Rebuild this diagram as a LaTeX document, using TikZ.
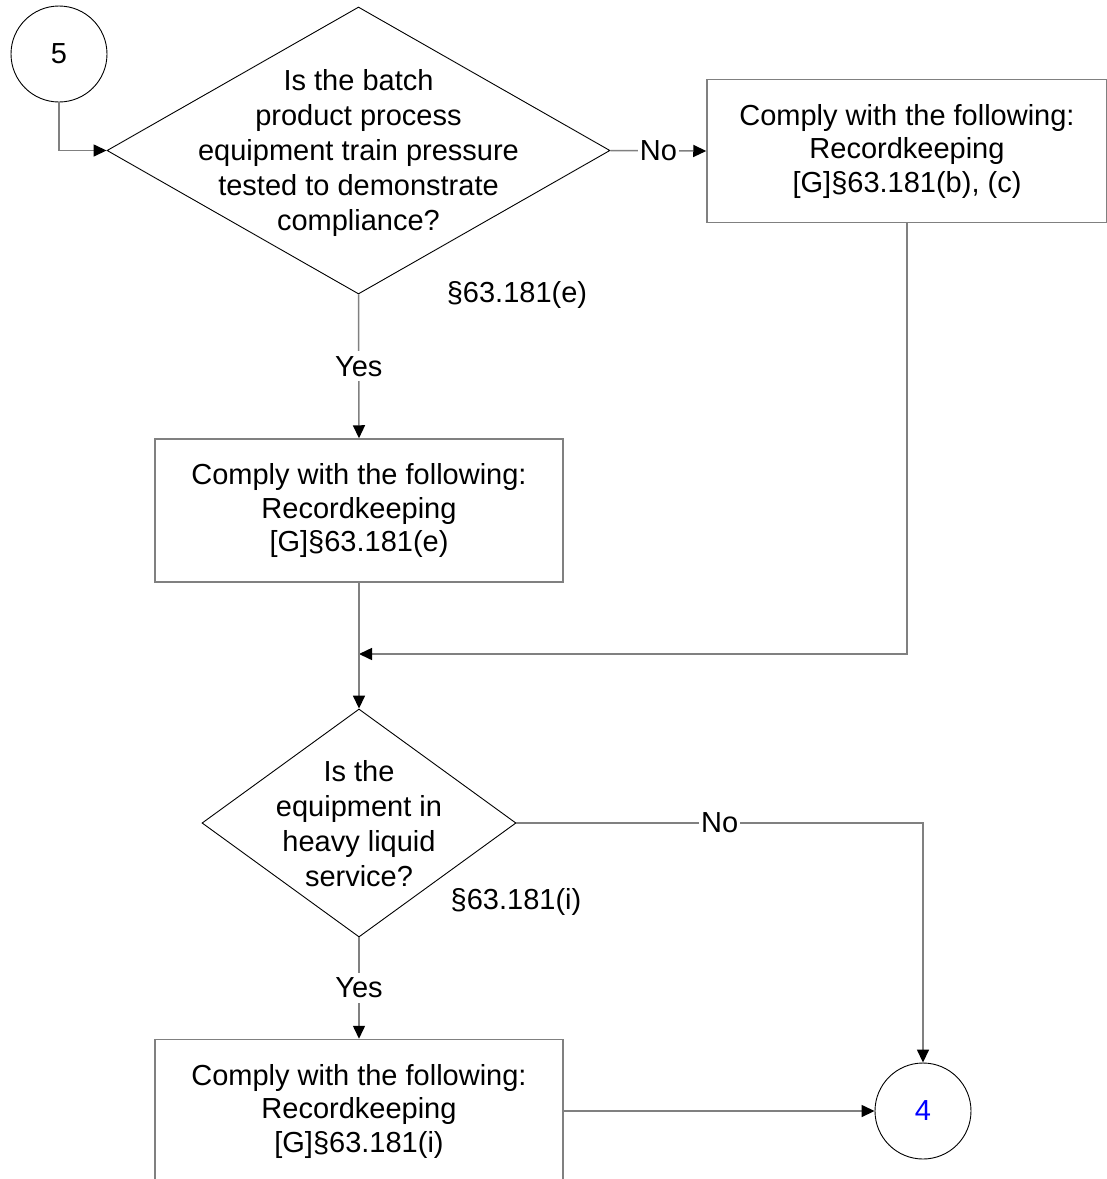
\documentclass[tikz,border=0pt]{standalone}
\usepackage{fontspec}
\setmainfont{Liberation Sans}
\usetikzlibrary{shapes.geometric,arrows.meta}
\definecolor{lgray}{RGB}{128,128,128}
\newcommand{\fsb}{\fontsize{29}{33.5}\selectfont}
\newcommand{\fsd}{\fontsize{29}{35}\selectfont}
\begin{document}
\begin{tikzpicture}[x=1pt,y=-1pt,
  conn/.style={draw=lgray, line width=1.5pt},
  arr/.style={conn, -{Triangle[length=13pt,width=12pt,color=black]}},
  boxst/.style={rectangle, draw=lgray, line width=1.5pt, minimum width=408pt, minimum height=143pt, align=center, font=\fsb, inner sep=0pt},
  diam/.style={diamond, draw=black, line width=0.9pt, inner sep=0pt},
  circ/.style={circle, draw=black, line width=0.9pt, minimum size=96pt, inner sep=0pt, font=\fsb},
  txt/.style={align=center, font=\fsd, inner sep=0pt},
  lbl/.style={fill=white, font=\fsb, inner xsep=2pt, inner ysep=5pt}
]
\useasboundingbox (0,0) rectangle (1107,1179);

% nodes
\node[circ] (c5) at (59,54) {5};
\node[diam, minimum width=503pt, minimum height=287pt] (d1) at (358.5,150.5) {};
\node[txt] (d1t) at (358.5,153) {Is the batch\\product process\\equipment train pressure\\tested to demonstrate\\compliance?};
\node[boxst, minimum width=400pt] (b1) at (907,151) {Comply with the following:\\Recordkeeping\\{}[G]§63.181(b), (c)};
\node[txt] (l1) at (517,295) {§63.181(e)};
\node[boxst] (b2) at (359,510.5) {Comply with the following:\\Recordkeeping\\{}[G]§63.181(e)};
\coordinate (m) at (359,654);
\node[diam, minimum width=314pt, minimum height=228pt] (d2) at (359,823) {};
\node[txt] (d2t) at (359,824) {Is the\\equipment in\\heavy liquid\\service?};
\node[txt] (l2) at (516,902) {§63.181(i)};
\node[boxst] (b3) at (359,1111) {Comply with the following:\\Recordkeeping\\{}[G]§63.181(i)};
\node[circ, text=blue] (c4) at (923,1111) {4};

% connectors
\draw[arr] (c5.south) |- (d1.west);
\draw[arr] (d1.east) -- node[lbl] (no1) {No} (b1.west);
\draw[arr] (d1.south) -- node[lbl] (yes1) {Yes} (b2.north);
\draw[arr] (b1.south) |- (m);
\draw[arr] (b2.south) -- (d2.north);
\draw[arr] (d2.east) -| node[lbl, pos=0.25] (no2) {No} (c4.north);
\draw[arr] (d2.south) -- node[lbl] (yes2) {Yes} (b3.north);
\draw[arr] (b3.east) -- (c4.west);
\end{tikzpicture}
\end{document}
